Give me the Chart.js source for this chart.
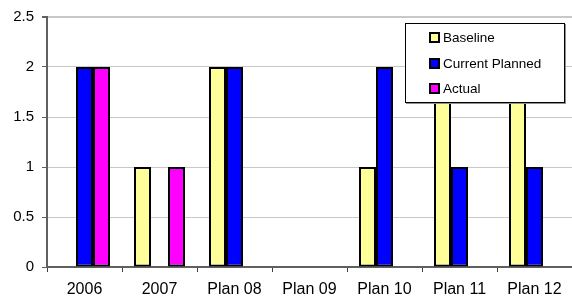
<!DOCTYPE html>
<html>
<head>
<meta charset="utf-8">
<script src="https://cdn.jsdelivr.net/npm/chart.js@4"></script>
<style>
  html, body { margin: 0; padding: 0; background: #fff; }
  #wrap { position: relative; width: 572px; height: 303px; }
  #legendBox {
    position: absolute; left: 405px; top: 23px; width: 158px; height: 78px;
    border: 1px solid #000; background: #fff; box-shadow: 1px 1px 0 #909090;
    font-family: 'Liberation Sans', Arial, sans-serif; font-size: 13.5px; color: #000;
  }
  .row { position: absolute; left: 23px; height: 16px; line-height: 16px; white-space: nowrap; }
  .sw { display: inline-block; width: 7px; height: 7px; border: 2px solid #000; vertical-align: -1px; margin-right: 3px; }
</style>
</head>
<body>
<div id="wrap">
  <canvas id="myBarChart" width="572" height="303"></canvas>
  <div id="legendBox"></div>
</div>
<script>
var categories = ['2006', '2007', 'Plan 08', 'Plan 09', 'Plan 10', 'Plan 11', 'Plan 12'];
var baseline = [null, 1, 2, null, 1, 2, 2];
var currentPlanned = [2, null, 2, null, 2, 1, 1];
var actual = [2, 1, null, null, null, null, null];
var seriesNames = ['Baseline', 'Current Planned', 'Actual'];
var seriesColors = ['#FFFF99', '#0000FF', '#FF00FF'];
var yTicks = [0, 0.5, 1, 1.5, 2, 2.5];

var xFont = { family: "'Liberation Sans', Arial, sans-serif", size: 16 };
var yFont = { family: "'Liberation Sans', Arial, sans-serif", size: 15 };
var ctx = document.getElementById('myBarChart').getContext('2d');

var myBarChart = new Chart(ctx, {
    type: 'bar',
    data: {
        labels: categories,
        datasets: [baseline, currentPlanned, actual].map(function (d, i) {
            return {
                label: seriesNames[i],
                data: d,
                backgroundColor: seriesColors[i],
                borderColor: '#000',
                borderWidth: 2,
                borderSkipped: false
            };
        })
    },
    options: {
        responsive: false,
        animation: false,
        layout: { padding: { top: 15, right: 0, left: 0, bottom: 0 } },
        categoryPercentage: 0.68,
        barPercentage: 1,
        plugins: { legend: { display: false }, tooltip: { enabled: false } },
        scales: {
            x: {
                offset: true,
                grid: { offset: true, drawOnChartArea: false, tickLength: 5, tickColor: '#404040', lineWidth: 1 },
                border: { color: '#606060', width: 2 },
                ticks: { color: '#000', font: xFont, padding: 8, maxRotation: 0 },
                afterFit: function (s) { s.height = 36; }
            },
            y: {
                min: 0,
                max: 2.5,
                afterBuildTicks: function (s) { s.ticks = yTicks.map(function (v) { return { value: v }; }); },
                grid: {
                    color: '#c8c8c8',
                    lineWidth: function (c) { return c.tick && c.tick.value === 2.5 ? 2 : 1; },
                    tickLength: 5,
                    tickColor: '#606060'
                },
                border: { color: '#606060', width: 2 },
                ticks: { color: '#000', font: yFont, padding: 8, callback: function (v) { return String(v); } },
                afterFit: function (s) { s.width = 47; }
            }
        }
    }
});

// legend drawn as html box inside the plot
var box = document.getElementById('legendBox');
seriesNames.forEach(function (name, i) {
    var r = document.createElement('div');
    r.className = 'row';
    r.style.top = (6 + i * 25.5) + 'px';
    r.innerHTML = '<span class="sw" style="background:' + seriesColors[i] + '"></span>' + name;
    box.appendChild(r);
});
</script>
</body>
</html>
